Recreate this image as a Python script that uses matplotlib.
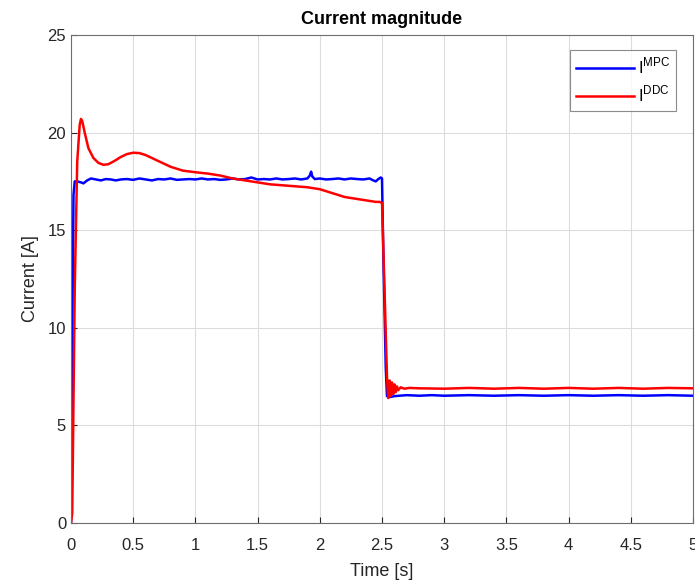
import matplotlib
matplotlib.use("Agg")
import matplotlib.pyplot as plt

# MPC current (blue)
t_mpc = [0.0, 0.01, 0.02, 0.03, 0.05, 0.08, 0.10, 0.13, 0.16, 0.20, 0.24, 0.28, 0.32, 0.36,
         0.40, 0.45, 0.50, 0.55, 0.60, 0.65, 0.70, 0.75, 0.80, 0.85, 0.90, 0.95, 1.00,
         1.05, 1.10, 1.15, 1.20, 1.25, 1.30, 1.35, 1.40, 1.45, 1.50, 1.55, 1.60, 1.65,
         1.70, 1.75, 1.80, 1.85, 1.90, 1.92, 1.93, 1.94, 1.96, 2.00, 2.05, 2.10, 2.15,
         2.20, 2.25, 2.30, 2.35, 2.40, 2.43, 2.45, 2.47, 2.49, 2.50, 2.51, 2.53, 2.54,
         2.56, 2.60, 2.70, 2.80, 2.90, 3.00, 3.20, 3.40, 3.60, 3.80, 4.00, 4.20, 4.40,
         4.60, 4.80, 5.00]
i_mpc = [0.0, 9.0, 16.8, 17.5, 17.5, 17.45, 17.4, 17.55, 17.65, 17.6, 17.55, 17.62, 17.6, 17.55,
         17.6, 17.62, 17.58, 17.65, 17.6, 17.55, 17.62, 17.6, 17.65, 17.58, 17.6, 17.62, 17.6,
         17.65, 17.6, 17.62, 17.58, 17.6, 17.65, 17.6, 17.62, 17.7, 17.6, 17.62, 17.6, 17.65,
         17.6, 17.62, 17.65, 17.6, 17.65, 17.8, 18.0, 17.75, 17.62, 17.65, 17.6, 17.62, 17.65,
         17.6, 17.65, 17.62, 17.6, 17.65, 17.55, 17.5, 17.62, 17.7, 17.65, 14.0, 8.0, 6.5,
         6.45, 6.5, 6.55, 6.52, 6.55, 6.52, 6.55, 6.52, 6.55, 6.52, 6.55, 6.52, 6.55,
         6.52, 6.55, 6.52]

# DDC current (red)
t_ddc = [0.0, 0.01, 0.03, 0.05, 0.07, 0.08, 0.09, 0.11, 0.14, 0.18, 0.22, 0.26, 0.30, 0.35,
         0.40, 0.45, 0.50, 0.55, 0.60, 0.65, 0.70, 0.75, 0.80, 0.85, 0.90, 1.00, 1.10, 1.20,
         1.30, 1.40, 1.50, 1.60, 1.70, 1.80, 1.90, 2.00, 2.05, 2.10, 2.15, 2.20, 2.25,
         2.30, 2.35, 2.40, 2.45, 2.48, 2.50, 2.52, 2.54, 2.55, 2.56, 2.57, 2.58, 2.59,
         2.60, 2.61, 2.62, 2.63, 2.65, 2.68, 2.72, 2.80, 3.00, 3.20, 3.40, 3.60, 3.80,
         4.00, 4.20, 4.40, 4.60, 4.80, 5.00]
i_ddc = [0.0, 0.5, 12.0, 18.5, 20.4, 20.7, 20.6, 20.0, 19.2, 18.7, 18.45, 18.35, 18.38, 18.55,
         18.75, 18.9, 18.97, 18.95, 18.85, 18.7, 18.55, 18.4, 18.25, 18.15, 18.05, 17.97, 17.9, 17.8,
         17.65, 17.55, 17.45, 17.35, 17.3, 17.25, 17.2, 17.1, 17.0, 16.9, 16.8, 16.7, 16.65,
         16.6, 16.55, 16.5, 16.45, 16.45, 16.4, 12.0, 7.5, 6.4, 7.3, 6.5, 7.2, 6.6,
         7.1, 6.7, 7.0, 6.8, 6.95, 6.88, 6.92, 6.9, 6.88, 6.92, 6.88, 6.92, 6.88,
         6.92, 6.88, 6.92, 6.88, 6.92, 6.9]

x_ticks = [0, 0.5, 1, 1.5, 2, 2.5, 3, 3.5, 4, 4.5, 5]
x_labels = ["0", "0.5", "1", "1.5", "2", "2.5", "3", "3.5", "4", "4.5", "5"]
y_ticks = [0, 5, 10, 15, 20, 25]
y_labels = ["0", "5", "10", "15", "20", "25"]

plt.rcParams['font.family'] = ['Liberation Sans', 'DejaVu Sans']
plt.rcParams['mathtext.fontset'] = 'custom'
plt.rcParams['mathtext.rm'] = 'Liberation Sans'

fig = plt.figure(figsize=(6.95, 5.86), dpi=100)
ax = fig.add_axes([71/695, 63/586, 622/695, 488/586])

ax.plot(t_mpc, i_mpc, color='#0000ff', lw=1.8, label=r'I$^{\rm MPC}$')
ax.plot(t_ddc, i_ddc, color='#ff0000', lw=1.8, label=r'I$^{\rm DDC}$')

ax.set_xlim(0, 5)
ax.set_ylim(0, 25)
ax.set_xticks(x_ticks)
ax.set_xticklabels(x_labels)
ax.set_yticks(y_ticks)
ax.set_yticklabels(y_labels)
ax.grid(True, color='#dcdcdc', lw=0.8)
ax.set_axisbelow(True)
for s in ax.spines.values():
    s.set_color('#6e6e6e')
    s.set_linewidth(0.8)
ax.tick_params(direction='in', length=4, colors='#262626', labelsize=12, width=0.8)
ax.tick_params(axis='x', pad=11)
ax.set_xlabel('Time [s]', fontsize=13, color='#262626', labelpad=7)
ax.set_ylabel('Current [A]', fontsize=13, color='#262626', labelpad=6)
ax.set_title('Current magnitude', fontsize=13, fontweight='bold', color='black', pad=8)

leg = ax.legend(loc='upper right', bbox_to_anchor=(0.9855, 0.986), fontsize=12,
                frameon=True, fancybox=False, handlelength=3.5, borderpad=0.35,
                labelspacing=0.45, handletextpad=0.2)
leg.get_frame().set_edgecolor('#6e6e6e')
leg.get_frame().set_linewidth(0.8)

fig.savefig('out.png', dpi=100)
